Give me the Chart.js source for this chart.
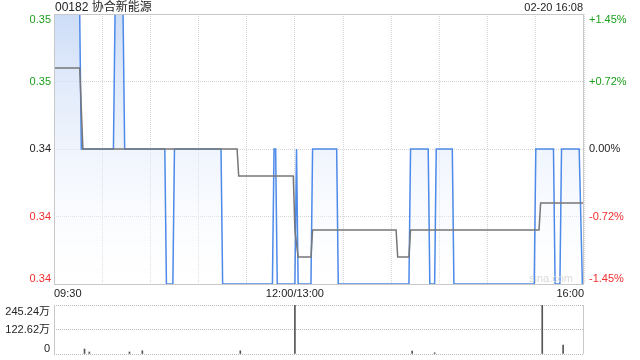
<!DOCTYPE html>
<html>
<head>
<meta charset="utf-8">
<script src="https://cdn.jsdelivr.net/npm/chart.js@4.4.1/dist/chart.umd.min.js"></script>
<style>
  html, body { margin: 0; padding: 0; background: #fff; }
  #wrap { position: relative; width: 640px; height: 360px; }
  canvas { position: absolute; left: 0; }
</style>
</head>
<body>
<div id="wrap">
  <canvas id="priceChart" width="640" height="300" style="top:0"></canvas>
  <canvas id="volChart" width="640" height="60" style="top:300px"></canvas>
</div>
<script>
var stockName = '00182 协合新能源';
var stampText = '02-20 16:08';
var prevClose = 0.345;

// minutes after 09:30 (lunch removed) at each turning point of the price line
var priceTimes = [0, 16, 17, 37, 38, 43, 44, 69, 70, 74, 75, 104, 105, 136, 137, 138, 139, 150, 151, 152, 160,
  161, 176, 177, 221, 222, 233, 234, 237, 238, 248, 249, 299, 300, 311, 312, 315, 316, 327, 329, 330];
var priceValues = [0.35, 0.35, 0.345, 0.345, 0.35, 0.35, 0.345, 0.345, 0.34, 0.34, 0.345, 0.345, 0.34, 0.34,
  0.345, 0.345, 0.34, 0.34, 0.345, 0.34, 0.34, 0.345, 0.345, 0.34, 0.34, 0.345, 0.345, 0.34, 0.34, 0.345,
  0.345, 0.34, 0.34, 0.345, 0.345, 0.34, 0.34, 0.345, 0.345, 0.34, 0.34];

// average price line
var avgTimes = [0, 16, 18, 114, 115, 149, 150, 152, 160, 161, 213, 214, 221, 222, 302, 303, 330];
var avgValues = [0.348, 0.348, 0.345, 0.345, 0.344, 0.344, 0.342, 0.341, 0.341, 0.342, 0.342, 0.341, 0.341,
  0.342, 0.342, 0.343, 0.343];

var priceTicks = [0.34, 0.3425, 0.345, 0.3475, 0.35];
var priceLabels = ['0.34', '0.34', '0.34', '0.35', '0.35'];
var pctLabels = ['-1.45%', '-0.72%', '0.00%', '+0.72%', '+1.45%'];

var timeTicks = [0, 30, 60, 90, 120, 150, 180, 210, 240, 270, 300, 330];
var timeLabelAt = [0, 150, 330];
var timeLabels = ['09:30', '12:00/13:00', '16:00'];

// volume (万股)
var volTimes = [19, 22, 47, 55, 116, 150, 223, 237, 304, 317];
var volValues = [25, 10, 10, 16, 16, 245.24, 15, 6, 244, 45];
var volTicks = [0, 122.62, 245.24];
var volLabels = ['0', '122.62万', '245.24万'];

var fontFam = '"Liberation Sans", Arial, "Noto Sans CJK SC", sans-serif';
var upColor = '#1b9e1b', downColor = '#ee2e2e', flatColor = '#222';
var gridColor = '#d6d6d6', frameColor = '#c8c8c8';

function toPoints(xs, ys) {
  return xs.map(function (x, i) { return { x: x, y: ys[i] }; });
}

function tickColor(v) {
  if (Math.abs(v - prevClose) < 1e-9) return flatColor;
  return v > prevClose ? upColor : downColor;
}

function priceFill(context) {
  var chart = context.chart, area = chart.chartArea;
  if (!area) return null;
  var g = chart.ctx.createLinearGradient(0, area.top, 0, area.bottom);
  g.addColorStop(0, 'rgba(196,215,246,0.85)');
  g.addColorStop(1, 'rgba(255,255,255,0.2)');
  return g;
}

var priceFrame = {
  id: 'priceFrame',
  afterDraw: function (chart) {
    var ctx = chart.ctx, a = chart.chartArea, xs = chart.scales.x, ys = chart.scales.y;
    ctx.save();
    ctx.strokeStyle = frameColor;
    ctx.lineWidth = 1;
    ctx.strokeRect(Math.round(a.left) + 0.5, Math.round(a.top) + 0.5,
      Math.round(a.right - a.left) - 1, Math.round(a.bottom - a.top));

    // watermark
    ctx.font = '11px ' + fontFam;
    ctx.fillStyle = '#d9d9d9';
    ctx.textAlign = 'right';
    ctx.textBaseline = 'middle';
    ctx.fillText('sina.com', a.right - 11, a.bottom - 5);

    // price / percent labels
    priceTicks.forEach(function (v, i) {
      var y = ys.getPixelForValue(v);
      ctx.textBaseline = i === 0 ? 'bottom' : (i === priceTicks.length - 1 ? 'top' : 'middle');
      ctx.fillStyle = tickColor(v);
      ctx.textAlign = 'right';
      ctx.fillText(priceLabels[i], a.left - 3, y);
      ctx.textAlign = 'left';
      ctx.fillText(pctLabels[i], a.right + 5, y);
    });

    // time labels
    ctx.fillStyle = flatColor;
    ctx.textBaseline = 'middle';
    timeLabelAt.forEach(function (t, i) {
      ctx.textAlign = i === 0 ? 'left' : (i === timeLabelAt.length - 1 ? 'right' : 'center');
      ctx.fillText(timeLabels[i], xs.getPixelForValue(t), a.bottom + 9.5);
    });

    // header
    ctx.font = '12px ' + fontFam;
    ctx.textAlign = 'left';
    ctx.fillText(stockName, a.left + 1, 7.5);
    ctx.font = '11px ' + fontFam;
    ctx.textAlign = 'right';
    ctx.fillText(stampText, a.right - 1, 7.5);
    ctx.restore();
  }
};

var volFrame = {
  id: 'volFrame',
  afterDraw: function (chart) {
    var ctx = chart.ctx, a = chart.chartArea, ys = chart.scales.y;
    ctx.save();
    ctx.strokeStyle = frameColor;
    ctx.lineWidth = 1;
    ctx.beginPath();
    ctx.moveTo(Math.round(a.left) + 0.5, a.top);
    ctx.lineTo(Math.round(a.left) + 0.5, a.bottom);
    ctx.moveTo(Math.round(a.right) - 0.5, a.top);
    ctx.lineTo(Math.round(a.right) - 0.5, a.bottom);
    ctx.stroke();
    ctx.font = '11px ' + fontFam;
    ctx.fillStyle = flatColor;
    ctx.textAlign = 'right';
    volTicks.forEach(function (v, i) {
      ctx.textBaseline = i === 0 ? 'bottom' : (i === volTicks.length - 1 ? 'top' : 'middle');
      ctx.fillText(volLabels[i], a.left - 4, ys.getPixelForValue(v) + (i === volTicks.length - 1 ? 1 : 0));
    });
    ctx.restore();
  }
};

document.addEventListener('DOMContentLoaded', function () {
  var priceCtx = document.getElementById('priceChart').getContext('2d');
  new Chart(priceCtx, {
    type: 'line',
    data: {
      datasets: [{
        data: toPoints(avgTimes, avgValues),
        borderColor: '#777',
        borderWidth: 1.5,
        pointRadius: 0,
        fill: false,
        order: 0
      }, {
        data: toPoints(priceTimes, priceValues),
        borderColor: '#4d8ae9',
        borderWidth: 1.5,
        pointRadius: 0,
        fill: 'start',
        backgroundColor: priceFill,
        order: 1
      }]
    },
    options: {
      responsive: false,
      animation: false,
      events: [],
      layout: { padding: { left: 54, right: 56, top: 14, bottom: 16 } },
      plugins: { legend: { display: false }, tooltip: { enabled: false } },
      scales: {
        x: {
          type: 'linear', min: 0, max: 330,
          afterBuildTicks: function (s) { s.ticks = timeTicks.map(function (v) { return { value: v }; }); },
          afterFit: function (s) { s.height = 0; },
          ticks: { display: false },
          grid: { color: gridColor, drawTicks: false },
          border: { display: false, dash: [1, 1] }
        },
        y: {
          type: 'linear', min: 0.34, max: 0.35,
          afterBuildTicks: function (s) { s.ticks = priceTicks.map(function (v) { return { value: v }; }); },
          afterFit: function (s) { s.width = 0; },
          ticks: { display: false },
          grid: { color: gridColor, drawTicks: false },
          border: { display: false, dash: [1, 1] }
        }
      }
    },
    plugins: [priceFrame]
  });

  var volCtx = document.getElementById('volChart').getContext('2d');
  new Chart(volCtx, {
    type: 'bar',
    data: {
      datasets: [{
        data: toPoints(volTimes, volValues),
        backgroundColor: '#555',
        barThickness: 1
      }]
    },
    options: {
      responsive: false,
      animation: false,
      events: [],
      layout: { padding: { left: 54, right: 56, top: 5, bottom: 6 } },
      plugins: { legend: { display: false }, tooltip: { enabled: false } },
      scales: {
        x: {
          type: 'linear', min: 0, max: 330,
          offset: false,
          afterFit: function (s) { s.height = 0; },
          ticks: { display: false },
          grid: { display: false, offset: false },
          border: { display: false }
        },
        y: {
          type: 'linear', min: 0, max: 245.24,
          afterBuildTicks: function (s) { s.ticks = volTicks.map(function (v) { return { value: v }; }); },
          afterFit: function (s) { s.width = 0; },
          ticks: { display: false },
          grid: { color: '#bbb', drawTicks: false },
          border: { display: false, dash: [1, 1] }
        }
      }
    },
    plugins: [volFrame]
  });
});
</script>
</body>
</html>
